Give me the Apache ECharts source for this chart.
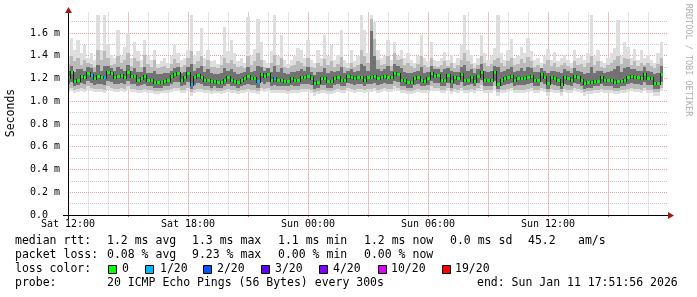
<!DOCTYPE html>
<html><head><meta charset="utf-8">
<script src="https://cdn.jsdelivr.net/npm/echarts@6/dist/echarts.min.js"></script>
<style>html,body{margin:0;padding:0;background:#fff}#c{width:697px;height:297px}</style>
</head><body><div id="c"></div>
<script>
// ---- time: hours after Sat 12:00, one sample every 10 minutes ----
const STEP_H = 1 / 6;
const xTickLabels = ['Sat 12:00', 'Sat 18:00', 'Sun 00:00', 'Sun 06:00', 'Sun 12:00'];

// ---- median RTT (ms) ----
const med = [
1.21,1.26,1.18,1.19,1.22,1.21,1.25,1.23,1.20,1.22,
1.21,1.21,1.26,1.25,1.21,1.22,1.23,1.21,1.26,1.22,
1.22,1.19,1.20,1.22,1.19,1.19,1.17,1.17,1.17,1.18,
1.19,1.22,1.24,1.25,1.19,1.21,1.25,1.15,1.21,1.23,
1.21,1.19,1.19,1.18,1.18,1.17,1.17,1.19,1.21,1.19,
1.18,1.17,1.19,1.20,1.22,1.20,1.20,1.18,1.24,1.22,
1.24,1.19,1.20,1.19,1.19,1.18,1.18,1.20,1.19,1.19,
1.21,1.21,1.22,1.20,1.16,1.17,1.20,1.20,1.18,1.18,
1.20,1.21,1.19,1.19,1.22,1.21,1.20,1.21,1.21,1.19,
1.21,1.21,1.22,1.20,1.21,1.22,1.21,1.21,1.25,1.24,
1.19,1.19,1.17,1.17,1.20,1.21,1.19,1.18,1.20,1.25,
1.22,1.23,1.19,1.19,1.23,1.18,1.21,1.20,1.24,1.19,
1.19,1.21,1.18,1.22,1.26,1.19,1.19,1.19,1.26,1.15,
1.19,1.20,1.21,1.22,1.19,1.20,1.20,1.20,1.21,1.22,
1.19,1.19,1.24,1.21,1.16,1.21,1.20,1.19,1.15,1.21,
1.20,1.19,1.22,1.21,1.19,1.16,1.17,1.17,1.18,1.18,
1.21,1.19,1.19,1.19,1.17,1.18,1.18,1.19,1.21,1.22,
1.21,1.21,1.20,1.24,1.20,1.20,1.16,1.16,1.24];

// ---- smoke: max ping (ms) ----
const hi = [
1.40,1.56,1.45,1.54,1.42,1.49,1.38,1.42,1.36,1.76,
1.45,1.76,1.50,1.41,1.38,1.63,1.40,1.48,1.60,1.38,
1.52,1.44,1.36,1.54,1.40,1.36,1.45,1.33,1.35,1.38,
1.34,1.40,1.49,1.42,1.36,1.38,1.45,1.76,1.40,1.44,
1.64,1.38,1.45,1.35,1.36,1.33,1.40,1.65,1.44,1.54,
1.42,1.35,1.38,1.34,1.74,1.40,1.46,1.72,1.52,1.36,
1.34,1.44,1.76,1.40,1.58,1.36,1.33,1.36,1.40,1.47,
1.45,1.38,1.54,1.36,1.34,1.45,1.38,1.58,1.40,1.49,
1.36,1.41,1.63,1.36,1.34,1.45,1.35,1.40,1.76,1.63,
1.42,1.76,1.70,1.45,1.38,1.40,1.54,1.36,1.52,1.40,
1.45,1.38,1.42,1.36,1.34,1.40,1.58,1.38,1.35,1.52,
1.36,1.35,1.38,1.43,1.36,1.41,1.34,1.38,1.49,1.76,
1.45,1.41,1.34,1.38,1.58,1.42,1.36,1.40,1.47,1.76,
1.42,1.36,1.45,1.55,1.38,1.40,1.48,1.42,1.56,1.44,
1.36,1.38,1.34,1.40,1.46,1.36,1.43,1.35,1.38,1.41,
1.36,1.34,1.45,1.38,1.40,1.36,1.42,1.76,1.40,1.45,
1.35,1.34,1.38,1.42,1.47,1.71,1.40,1.52,1.48,1.38,
1.46,1.36,1.45,1.38,1.41,1.36,1.34,1.42,1.52];

// ---- smoke: upper edge of medium shade (ms) ----
const mhi = [
1.33,1.40,1.35,1.38,1.32,1.36,1.34,1.33,1.30,1.45,
1.36,1.44,1.38,1.32,1.33,1.40,1.34,1.36,1.42,1.31,
1.38,1.35,1.30,1.41,1.33,1.30,1.36,1.29,1.30,1.31,
1.29,1.33,1.37,1.34,1.30,1.32,1.38,1.44,1.33,1.35,
1.40,1.31,1.36,1.30,1.30,1.29,1.32,1.38,1.34,1.36,
1.33,1.30,1.31,1.29,1.40,1.32,1.35,1.42,1.36,1.30,
1.29,1.34,1.41,1.32,1.38,1.30,1.29,1.31,1.32,1.35,
1.34,1.31,1.38,1.30,1.29,1.34,1.31,1.37,1.32,1.35,
1.30,1.33,1.39,1.30,1.29,1.34,1.30,1.32,1.45,1.40,
1.34,1.72,1.55,1.36,1.32,1.33,1.40,1.31,1.42,1.36,
1.37,1.32,1.34,1.31,1.29,1.33,1.40,1.32,1.30,1.38,
1.31,1.30,1.32,1.35,1.31,1.34,1.29,1.32,1.36,1.42,
1.35,1.33,1.29,1.32,1.40,1.34,1.31,1.33,1.36,1.38,
1.34,1.31,1.35,1.38,1.32,1.33,1.37,1.34,1.39,1.35,
1.30,1.32,1.29,1.33,1.36,1.31,1.34,1.30,1.32,1.34,
1.31,1.29,1.35,1.32,1.33,1.30,1.34,1.40,1.32,1.35,
1.30,1.29,1.32,1.34,1.36,1.40,1.33,1.38,1.37,1.32,
1.35,1.31,1.34,1.32,1.34,1.31,1.29,1.33,1.38];

// ---- smoke: upper edge of dark shade (ms) ----
const dhi = [
1.27,1.31,1.26,1.28,1.28,1.27,1.30,1.29,1.26,1.32,
1.27,1.31,1.31,1.29,1.27,1.30,1.28,1.27,1.32,1.27,
1.29,1.26,1.26,1.30,1.25,1.25,1.27,1.24,1.24,1.25,
1.25,1.27,1.29,1.30,1.25,1.26,1.30,1.33,1.27,1.29,
1.31,1.26,1.28,1.25,1.24,1.24,1.25,1.29,1.27,1.28,
1.26,1.24,1.25,1.26,1.30,1.26,1.27,1.31,1.30,1.27,
1.29,1.26,1.31,1.26,1.29,1.25,1.24,1.26,1.26,1.27,
1.28,1.27,1.30,1.26,1.23,1.26,1.26,1.29,1.25,1.27,
1.26,1.27,1.30,1.25,1.27,1.28,1.26,1.27,1.33,1.31,
1.27,1.62,1.40,1.28,1.27,1.28,1.31,1.27,1.33,1.31,
1.29,1.26,1.25,1.25,1.26,1.27,1.30,1.25,1.26,1.31,
1.28,1.28,1.26,1.28,1.29,1.27,1.26,1.26,1.30,1.32,
1.27,1.28,1.25,1.28,1.33,1.27,1.26,1.27,1.31,1.30,
1.26,1.27,1.28,1.30,1.26,1.27,1.29,1.27,1.30,1.29,
1.26,1.26,1.29,1.27,1.25,1.27,1.27,1.26,1.25,1.28,
1.27,1.25,1.29,1.27,1.26,1.24,1.25,1.30,1.25,1.27,
1.27,1.25,1.26,1.27,1.28,1.31,1.26,1.29,1.30,1.28,
1.28,1.27,1.27,1.30,1.27,1.26,1.24,1.25,1.31];

// ---- smoke: lower edge of dark shade (ms) ----
const dlo = [
1.15,1.17,1.13,1.14,1.16,1.15,1.18,1.16,1.14,1.15,
1.15,1.14,1.18,1.17,1.15,1.15,1.16,1.15,1.18,1.15,
1.15,1.13,1.14,1.15,1.13,1.13,1.12,1.12,1.12,1.13,
1.13,1.15,1.17,1.17,1.13,1.14,1.17,1.11,1.14,1.16,
1.15,1.13,1.13,1.12,1.13,1.12,1.12,1.13,1.15,1.13,
1.13,1.12,1.13,1.14,1.15,1.14,1.14,1.12,1.17,1.15,
1.17,1.13,1.14,1.13,1.13,1.13,1.13,1.14,1.13,1.13,
1.15,1.15,1.15,1.14,1.11,1.12,1.14,1.14,1.12,1.12,
1.14,1.15,1.13,1.13,1.16,1.15,1.14,1.15,1.15,1.13,
1.15,1.15,1.16,1.14,1.15,1.16,1.15,1.15,1.18,1.17,
1.13,1.13,1.12,1.12,1.14,1.15,1.13,1.13,1.14,1.18,
1.16,1.16,1.13,1.13,1.16,1.12,1.15,1.14,1.17,1.13,
1.14,1.15,1.13,1.16,1.19,1.13,1.13,1.13,1.18,1.11,
1.13,1.14,1.15,1.16,1.13,1.14,1.14,1.14,1.15,1.16,
1.13,1.13,1.17,1.15,1.11,1.15,1.14,1.13,1.11,1.15,
1.14,1.13,1.16,1.15,1.13,1.11,1.12,1.12,1.13,1.13,
1.15,1.13,1.13,1.13,1.12,1.12,1.13,1.13,1.15,1.16,
1.15,1.15,1.14,1.17,1.14,1.14,1.11,1.11,1.17];

// ---- smoke: lower edge of medium shade (ms) ----
const mlo = [
1.11,1.12,1.10,1.11,1.12,1.11,1.13,1.12,1.11,1.11,
1.11,1.10,1.13,1.12,1.11,1.11,1.12,1.11,1.13,1.11,
1.11,1.10,1.10,1.11,1.10,1.10,1.09,1.09,1.09,1.10,
1.10,1.11,1.12,1.12,1.10,1.10,1.12,1.08,1.10,1.11,
1.11,1.10,1.10,1.09,1.10,1.09,1.09,1.10,1.11,1.10,
1.10,1.09,1.10,1.10,1.11,1.10,1.10,1.09,1.12,1.11,
1.12,1.10,1.10,1.10,1.10,1.10,1.09,1.10,1.10,1.10,
1.11,1.11,1.11,1.10,1.08,1.09,1.10,1.10,1.09,1.09,
1.10,1.11,1.10,1.10,1.12,1.11,1.10,1.11,1.11,1.10,
1.11,1.11,1.12,1.10,1.11,1.12,1.11,1.11,1.13,1.12,
1.10,1.10,1.09,1.09,1.10,1.11,1.10,1.10,1.10,1.13,
1.12,1.12,1.10,1.10,1.12,1.09,1.11,1.10,1.12,1.10,
1.10,1.11,1.10,1.12,1.14,1.10,1.10,1.10,1.13,1.08,
1.10,1.10,1.11,1.12,1.10,1.10,1.10,1.10,1.11,1.12,
1.10,1.10,1.12,1.11,1.08,1.11,1.10,1.10,1.08,1.11,
1.10,1.10,1.12,1.11,1.10,1.08,1.09,1.09,1.10,1.10,
1.11,1.10,1.10,1.10,1.09,1.09,1.10,1.10,1.11,1.12,
1.11,1.11,1.10,1.12,1.10,1.10,1.08,1.08,1.12];

// ---- smoke: min ping (ms) ----
const lo = [
1.08,1.09,1.07,1.08,1.09,1.08,1.10,1.09,1.08,1.08,
1.08,1.07,1.10,1.09,1.08,1.08,1.09,1.08,1.10,1.08,
1.08,1.07,1.07,1.08,1.07,1.07,1.06,1.06,1.07,1.07,
1.07,1.08,1.09,1.09,1.07,1.07,1.09,1.05,1.07,1.08,
1.08,1.07,1.07,1.06,1.07,1.07,1.06,1.07,1.08,1.07,
1.07,1.06,1.07,1.07,1.08,1.07,1.07,1.06,1.09,1.08,
1.09,1.07,1.07,1.07,1.07,1.07,1.06,1.07,1.07,1.07,
1.08,1.08,1.08,1.07,1.05,1.06,1.07,1.07,1.06,1.06,
1.07,1.08,1.07,1.07,1.09,1.08,1.07,1.08,1.08,1.07,
1.08,1.08,1.09,1.07,1.08,1.09,1.08,1.08,1.10,1.09,
1.07,1.07,1.06,1.06,1.07,1.08,1.07,1.07,1.07,1.10,
1.09,1.09,1.07,1.07,1.09,1.06,1.08,1.07,1.09,1.07,
1.07,1.08,1.07,1.09,1.11,1.07,1.07,1.07,1.10,1.05,
1.07,1.07,1.08,1.09,1.07,1.07,1.07,1.07,1.08,1.09,
1.07,1.07,1.09,1.08,1.05,1.08,1.07,1.07,1.05,1.08,
1.07,1.07,1.09,1.08,1.07,1.05,1.06,1.06,1.07,1.07,
1.08,1.07,1.07,1.07,1.06,1.06,1.07,1.07,1.08,1.09,
1.08,1.08,1.07,1.09,1.07,1.07,1.05,1.05,1.09];

// ---- packet loss (lost pings out of 20) at sample indices ----
const lossIdx = [7, 11, 37, 57, 62];
const lossCnt = [1, 1, 1, 1, 1];

// ---- loss colour legend ----
const lossLegend = ['0', '1/20', '2/20', '3/20', '4/20', '10/20', '19/20'];
const lossLevels = [0, 1, 2, 3, 4, 10, 19];
const lossColors = ['#00ff00', '#00b8ff', '#0059ff', '#5e00ff', '#7e00ff', '#dd00ff', '#ff0000'];

// ---- summary texts ----
const rttLine = ['median rtt:', '1.2 ms avg', '1.3 ms max', '1.1 ms min', '1.2 ms now', '0.0 ms sd', '45.2', 'am/s'];
const lossLine = ['packet loss:', '0.08 % avg', '9.23 % max', '0.00 % min', '0.00 % now'];
const probeLine = ['probe:', '20 ICMP Echo Pings (56 Bytes) every 300s', 'end: Sun Jan 11 17:51:56 2026'];

// ---------------------------------------------------------------
const lossOf = new Array(med.length).fill(0);
lossIdx.forEach((k, j) => { lossOf[k] = lossCnt[j]; });
function colorForLoss(n) {
  let c = lossColors[0];
  for (let j = 0; j < lossLevels.length; j++) if (n >= lossLevels[j]) c = lossColors[j];
  return c;
}
const rows = med.map((m, i) => [i * STEP_H, lo[i], mlo[i], dlo[i], dhi[i], mhi[i], hi[i], m, lossOf[i], i > 0 ? med[i - 1] : m]);

function renderItem(params, api) {
  const t = api.value(0);
  const xa = Math.round(api.coord([t - STEP_H / 2, 0])[0]);
  const xb = Math.round(api.coord([t + STEP_H / 2, 0])[0]);
  const w = xb - xa;
  const band = (ia, ib, fill) => {
    const ya = Math.round(api.coord([t, api.value(ia)])[1]);
    const yb = Math.round(api.coord([t, api.value(ib)])[1]);
    return { type: 'rect', shape: { x: xa, y: yb, width: w, height: ya - yb }, style: { fill } };
  };
  const ym = Math.round(api.coord([t, api.value(7)])[1]);
  const yp = Math.round(api.coord([t, api.value(9)])[1]);
  return {
    type: 'group',
    children: [
      band(1, 6, '#dedede'),
      band(2, 5, '#bababa'),
      band(3, 4, '#727272'),
      { type: 'rect', shape: { x: xa, y: Math.min(ym, yp) - 1, width: 1, height: Math.abs(ym - yp) + 3 }, style: { fill: '#1e1e1e' } },
      { type: 'rect', shape: { x: xa + 1, y: ym - 1, width: w - 1, height: 3 }, style: { fill: colorForLoss(api.value(8)) } }
    ]
  };
}

const FONT = '"DejaVu Sans Mono", monospace';
const grayGrid = { color: '#c9c9c9', type: [1, 1], width: 1 };
const redGrid = { color: '#e8a0a0', type: [1, 1], width: 1 };

const graphic = [];
const txt = (x, y, s) => graphic.push({
  type: 'text', x, y, silent: true,
  style: { text: s, font: '11.5px ' + FONT, fill: '#000', align: 'left', verticalAlign: 'middle' }
});
[15, 107, 192, 278, 364, 450, 528, 578].forEach((x, j) => txt(x, 241, rttLine[j]));
[15, 107, 192, 278, 364].forEach((x, j) => txt(x, 255, lossLine[j]));
txt(15, 269, 'loss color:');
const boxX = [108.5, 145.5, 203.5, 261.5, 319.5, 378.5, 442.5];
const labX = [122, 160, 217, 275, 333, 391, 455];
lossLegend.forEach((s, j) => {
  graphic.push({ type: 'rect', silent: true, shape: { x: boxX[j], y: 265.5, width: 8, height: 8 },
    style: { fill: lossColors[j], stroke: '#000', lineWidth: 1 } });
  txt(labX[j], 269, s);
});
[15, 107, 477].forEach((x, j) => txt(x, 283.5, probeLine[j]));
graphic.push({ type: 'text', x: 11, y: 113, rotation: Math.PI / 2, silent: true,
  style: { text: 'Seconds', font: '11.5px ' + FONT, fill: '#000', align: 'center', verticalAlign: 'middle' } });
graphic.push({ type: 'text', x: 688, y: 60, rotation: -Math.PI / 2, silent: true,
  style: { text: 'RRDTOOL / TOBI OETIKER', font: '8.5px ' + FONT, fill: '#b0b0b0', align: 'center', verticalAlign: 'middle' } });
// axis lines drawn on top of the data, with their small extensions and arrows
graphic.push({ type: 'line', silent: true, z: 100, shape: { x1: 63, y1: 215.5, x2: 668, y2: 215.5 }, style: { stroke: '#000', lineWidth: 1 } });
graphic.push({ type: 'line', silent: true, z: 100, shape: { x1: 68.5, y1: 219, x2: 68.5, y2: 12 }, style: { stroke: '#000', lineWidth: 1 } });
graphic.push({ type: 'polygon', silent: true, z: 100, shape: { points: [[65, 13], [72, 13], [68.5, 7]] }, style: { fill: '#a01b1b' } });
graphic.push({ type: 'polygon', silent: true, z: 100, shape: { points: [[668, 212], [668, 219], [674, 215.5]] }, style: { fill: '#a01b1b' } });

const chart = echarts.init(document.getElementById('c'), null, { renderer: 'canvas' });
chart.setOption({
  animation: false,
  backgroundColor: '#ffffff',
  grid: { left: 68, top: 12.5, width: 600, height: 202.5, containLabel: false },
  xAxis: [
    { type: 'value', min: 0, max: 30, interval: 1, position: 'bottom', z: 0,
      axisLine: { show: false, onZero: false },
      axisTick: { show: false }, axisLabel: { show: false },
      splitLine: { show: true, showMinLine: false, showMaxLine: false, lineStyle: grayGrid } },
    { type: 'value', min: 0, max: 30, interval: 3, position: 'bottom', z: 1,
      axisLine: { show: false, onZero: false },
      axisTick: { show: true, length: 2, lineStyle: { color: '#e07070' } }, axisLabel: { show: false },
      splitLine: { show: true, showMinLine: false, showMaxLine: false, lineStyle: redGrid } },
    { type: 'value', min: 0, max: 30, interval: 6, position: 'bottom', z: 1,
      axisLine: { show: false, onZero: false }, axisTick: { show: false }, splitLine: { show: false },
      axisLabel: { show: true, margin: 4, fontFamily: FONT, fontSize: 10, color: '#000',
        showMinLabel: true, showMaxLabel: true,
        formatter: v => { const k = Math.round(v / 6); return (Math.abs(v - k * 6) < 1e-6 && xTickLabels[k]) ? xTickLabels[k] : ''; } } }
  ],
  yAxis: [
    { type: 'value', min: 0, max: 1.78, interval: 0.1, position: 'left', z: 0,
      axisLine: { show: false, onZero: false },
      axisTick: { show: false }, axisLabel: { show: false },
      splitLine: { show: true, showMinLine: false, showMaxLine: false, lineStyle: grayGrid } },
    { type: 'value', min: 0, max: 1.78, interval: 0.2, position: 'left', z: 1,
      axisLine: { show: false, onZero: false }, axisTick: { show: false },
      axisLabel: { show: true, align: 'left', margin: 38, fontFamily: FONT, fontSize: 10, color: '#000',
        formatter: v => { const k = Math.round(v / 0.2); if (Math.abs(v - k * 0.2) > 1e-6) return ''; return k === 0 ? '0.0' : v.toFixed(1) + ' m'; } },
      splitLine: { show: true, showMinLine: false, showMaxLine: false, lineStyle: redGrid } }
  ],
  series: [{
    type: 'custom', xAxisIndex: 0, yAxisIndex: 0, clip: true, z: 5,
    renderItem, data: rows, encode: { x: 0, y: [1, 2, 3, 4, 5, 6, 7] }
  }],
  graphic
});
</script>
</body></html>
